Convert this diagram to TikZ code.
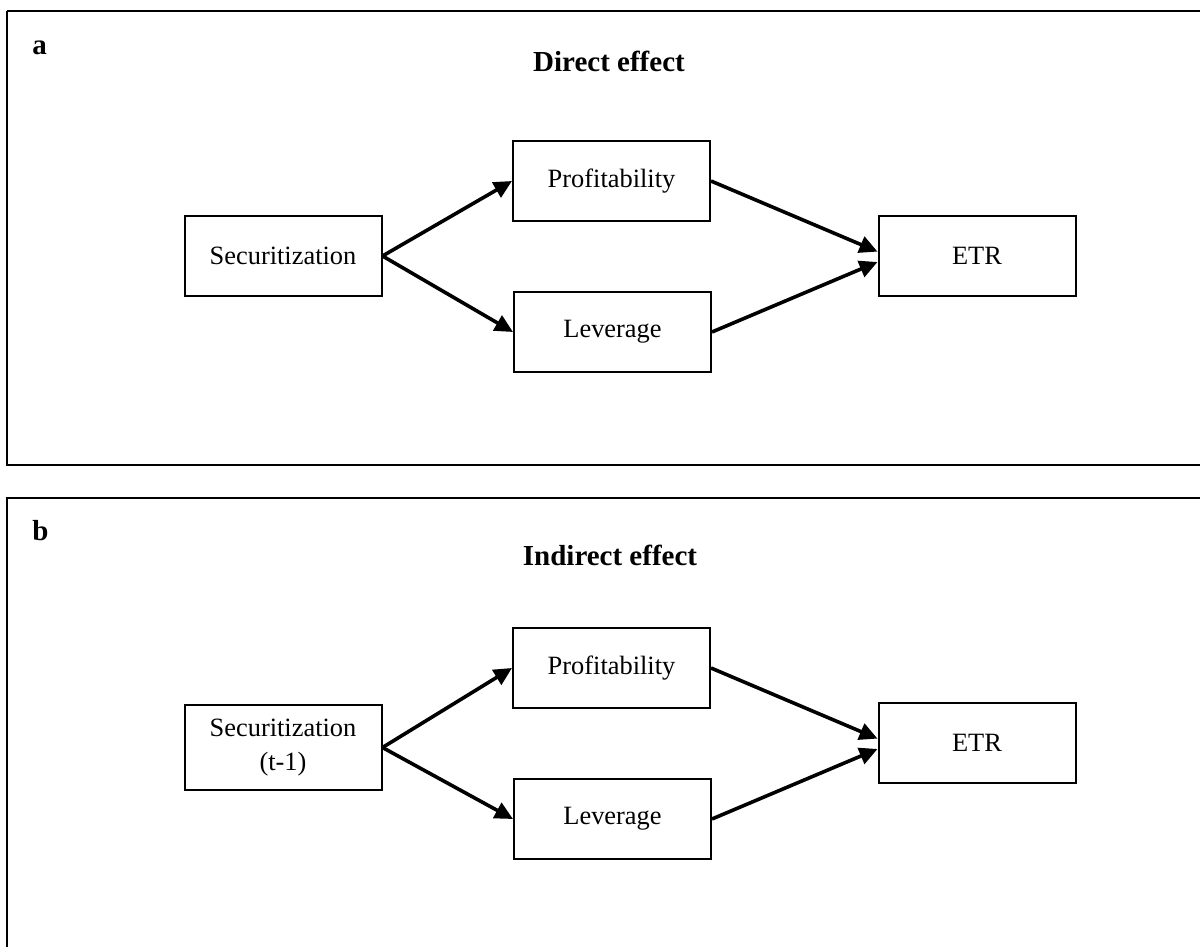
\documentclass[tikz,border=0pt]{standalone}
\usepackage{fontspec}
\setmainfont{Liberation Serif}
\usetikzlibrary{arrows.meta}

\begin{document}
\begin{tikzpicture}[x=0.5pt,y=-0.5pt]
    \tikzset{Caja/.style = {shape=rectangle,draw,line width=1pt,minimum width=98.5pt,minimum height=40pt,inner sep=0pt,align=center,font=\fontsize{13.2}{17}\selectfont}}
    \tikzset{Marco/.style = {draw,line width=1pt}}
    \tikzset{Titulo/.style = {anchor=base,inner sep=0pt,font=\fontsize{14.5}{17}\selectfont\bfseries}}
    \tikzset{flecha/.style = {-{Triangle[length=9pt,width=8.5pt]},line width=1.8pt,black}}

    \useasboundingbox (0,0) rectangle (1200,947);
    \clip (0,0) rectangle (1200,947);

    %Marcos de los dos paneles
    \draw[Marco] (7,11) -- (1210,11) (7,11) -- (7,465) -- (1210,465);
    \draw[Marco] (1210,498) -- (7,498) -- (7,960);

    %Panel a
    \node[Titulo,anchor=base west] (letraA) at (32,55) {a};
    \node[Titulo] (tituloA) at (609,72) {Direct effect};

    \node[Caja] (secA) at (283,256) {Securitization};
    \node[Caja] (profA) at (611.5,181) {Profitability};
    \node[Caja] (levA) at (612.5,332) {Leverage};
    \node[Caja] (etrA) at (977,256) {ETR};

    \draw [flecha] (secA.east) -- (profA.west);
    \draw [flecha] (secA.east) -- (levA.west);
    \draw [flecha] (profA.east) -- ([yshift=2.2pt]etrA.west);
    \draw [flecha] (levA.east) -- ([yshift=-3pt]etrA.west);

    %Panel b
    \node[Titulo,anchor=base west] (letraB) at (32,540) {b};
    \node[Titulo] (tituloB) at (610,565) {Indirect effect};

    \node[Caja,minimum height=42.5pt] (secB) at (283,747.5) {Securitization\\(t-1)};
    \node[Caja] (profB) at (611.5,668) {Profitability};
    \node[Caja] (levB) at (612.5,819) {Leverage};
    \node[Caja] (etrB) at (977,743) {ETR};

    \draw [flecha] (secB.east) -- (profB.west);
    \draw [flecha] (secB.east) -- (levB.west);
    \draw [flecha] (profB.east) -- ([yshift=2.2pt]etrB.west);
    \draw [flecha] (levB.east) -- ([yshift=-3pt]etrB.west);

\end{tikzpicture}
\end{document}
